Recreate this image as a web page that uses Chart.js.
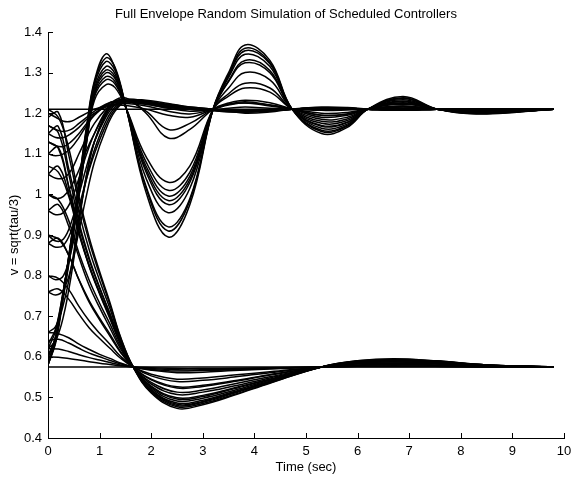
<!DOCTYPE html>
<html>
<head>
<meta charset="utf-8">
<script src="https://cdn.jsdelivr.net/npm/chart.js@4/dist/chart.umd.min.js"></script>
<style>
  html, body { margin: 0; padding: 0; background: #fff; }
  #wrap { width: 572px; height: 477px; }
</style>
</head>
<body>
<div id="wrap"><canvas id="chart" width="572" height="477"></canvas></div>
<script>
// time samples (sec)
const tLower = [0, 0.2, 0.4, 0.6, 0.8, 1.0, 1.2, 1.4, 1.65, 2.0, 2.5, 3.0, 3.6, 4.3, 5.3, 6.0, 6.7, 7.5, 8.5, 9.8];
const tUpper = [0, 0.15, 0.3, 0.45, 0.6, 0.75, 0.9, 1.12, 1.3, 1.52, 1.9, 2.33, 2.75, 3.2, 3.5, 3.82, 4.3, 4.73, 5.3, 5.8, 6.2, 6.88, 7.54, 8.3, 9.8];

// runs settling at v = 0.575
const lo1  = [1.21, 1.19, 1.115, 0.994, 0.893, 0.81, 0.734, 0.651, 0.575, 0.511, 0.473, 0.482, 0.505, 0.535, 0.575, 0.59, 0.595, 0.59, 0.58, 0.575];
const lo2  = [1.19, 1.202, 1.098, 0.981, 0.883, 0.803, 0.729, 0.649, 0.575, 0.513, 0.477, 0.485, 0.507, 0.536, 0.575, 0.59, 0.594, 0.59, 0.58, 0.575];
const lo3  = [1.17, 1.152, 1.051, 0.932, 0.843, 0.771, 0.706, 0.64, 0.575, 0.516, 0.48, 0.488, 0.51, 0.538, 0.575, 0.589, 0.593, 0.589, 0.58, 0.575];
const lo4  = [1.15, 1.167, 1.064, 0.955, 0.863, 0.788, 0.719, 0.644, 0.575, 0.518, 0.483, 0.49, 0.512, 0.539, 0.575, 0.589, 0.593, 0.589, 0.58, 0.575];
const lo5  = [1.13, 1.113, 1.019, 0.908, 0.825, 0.758, 0.697, 0.636, 0.575, 0.519, 0.486, 0.493, 0.514, 0.54, 0.575, 0.588, 0.592, 0.588, 0.579, 0.575];
const lo6  = [1.10, 1.116, 1.021, 0.922, 0.838, 0.769, 0.706, 0.638, 0.575, 0.523, 0.491, 0.498, 0.517, 0.542, 0.575, 0.588, 0.591, 0.588, 0.579, 0.575];
const lo7  = [1.07, 1.055, 0.996, 0.902, 0.823, 0.758, 0.699, 0.634, 0.575, 0.526, 0.496, 0.502, 0.521, 0.544, 0.575, 0.587, 0.59, 0.587, 0.579, 0.575];
const lo8  = [1.05, 1.069, 1.003, 0.908, 0.822, 0.755, 0.694, 0.632, 0.575, 0.528, 0.499, 0.505, 0.523, 0.545, 0.575, 0.586, 0.59, 0.586, 0.579, 0.575];
const lo9  = [1.00, 0.987, 0.936, 0.855, 0.788, 0.732, 0.681, 0.626, 0.575, 0.533, 0.507, 0.513, 0.528, 0.548, 0.575, 0.585, 0.588, 0.585, 0.578, 0.575];
const lo10 = [0.96, 0.975, 0.922, 0.845, 0.775, 0.721, 0.671, 0.621, 0.575, 0.537, 0.513, 0.518, 0.533, 0.551, 0.575, 0.584, 0.587, 0.584, 0.578, 0.575];
const lo11 = [0.90, 0.89, 0.851, 0.79, 0.738, 0.695, 0.656, 0.614, 0.575, 0.543, 0.523, 0.527, 0.539, 0.555, 0.575, 0.583, 0.585, 0.583, 0.578, 0.575];
const lo12 = [0.88, 0.892, 0.85, 0.789, 0.734, 0.691, 0.651, 0.612, 0.575, 0.545, 0.526, 0.53, 0.541, 0.556, 0.575, 0.582, 0.584, 0.582, 0.577, 0.575];
const lo13 = [0.80, 0.793, 0.766, 0.724, 0.688, 0.658, 0.631, 0.602, 0.575, 0.553, 0.539, 0.542, 0.55, 0.561, 0.575, 0.58, 0.582, 0.58, 0.577, 0.575];
const lo14 = [0.76, 0.767, 0.742, 0.705, 0.671, 0.645, 0.621, 0.597, 0.575, 0.557, 0.545, 0.548, 0.555, 0.563, 0.575, 0.579, 0.581, 0.579, 0.576, 0.575];
const lo15 = [0.66, 0.657, 0.647, 0.631, 0.618, 0.606, 0.596, 0.585, 0.575, 0.567, 0.561, 0.562, 0.566, 0.57, 0.575, 0.577, 0.578, 0.577, 0.576, 0.575];
const lo16 = [0.64, 0.643, 0.634, 0.621, 0.609, 0.60, 0.591, 0.583, 0.575, 0.569, 0.565, 0.566, 0.568, 0.571, 0.575, 0.577, 0.577, 0.577, 0.575, 0.575];
const lo17 = [0.62, 0.619, 0.613, 0.605, 0.598, 0.592, 0.586, 0.58, 0.575, 0.571, 0.568, 0.568, 0.57, 0.572, 0.575, 0.576, 0.576, 0.576, 0.575, 0.575];
const lo18 = [0.60, 0.599, 0.596, 0.592, 0.588, 0.584, 0.581, 0.578, 0.575, 0.573, 0.571, 0.571, 0.572, 0.573, 0.575, 0.576, 0.576, 0.576, 0.575, 0.575];
const lo19 = [0.575, 0.575, 0.575, 0.575, 0.575, 0.575, 0.575, 0.575, 0.575, 0.575, 0.575, 0.575, 0.575, 0.575, 0.575, 0.575, 0.575, 0.575, 0.575, 0.575];

// oscillating runs settling at v = 1.21
const os1 = [0.58, 0.64, 0.76, 0.89, 1.03, 1.17, 1.28, 1.346, 1.31, 1.21, 1.005, 0.895, 0.975, 1.21, 1.30, 1.368, 1.33, 1.21, 1.15, 1.165, 1.21, 1.241, 1.21, 1.198, 1.21];
const os2 = [0.58, 0.64, 0.76, 0.89, 1.03, 1.165, 1.275, 1.336, 1.313, 1.21, 1.015, 0.91, 0.985, 1.21, 1.295, 1.36, 1.325, 1.21, 1.155, 1.168, 1.21, 1.238, 1.21, 1.199, 1.21];
const os3 = [0.59, 0.645, 0.76, 0.885, 1.025, 1.16, 1.27, 1.327, 1.305, 1.21, 1.02, 0.92, 0.99, 1.21, 1.292, 1.354, 1.322, 1.21, 1.158, 1.17, 1.21, 1.236, 1.21, 1.199, 1.21];
const os4 = [0.60, 0.65, 0.76, 0.885, 1.02, 1.155, 1.262, 1.315, 1.297, 1.21, 1.04, 0.955, 1.015, 1.21, 1.288, 1.345, 1.315, 1.21, 1.163, 1.173, 1.21, 1.233, 1.21, 1.20, 1.21];
const os5 = [0.58, 0.635, 0.75, 0.875, 1.01, 1.145, 1.255, 1.306, 1.29, 1.21, 1.055, 0.975, 1.03, 1.21, 1.28, 1.33, 1.305, 1.21, 1.168, 1.177, 1.21, 1.23, 1.21, 1.20, 1.21];
const os6 = [0.60, 0.65, 0.755, 0.875, 1.005, 1.14, 1.25, 1.299, 1.285, 1.21, 1.062, 0.985, 1.037, 1.21, 1.278, 1.324, 1.30, 1.21, 1.17, 1.178, 1.21, 1.228, 1.21, 1.20, 1.21];
const os7 = [0.62, 0.665, 0.765, 0.88, 1.005, 1.135, 1.245, 1.29, 1.278, 1.21, 1.07, 0.996, 1.045, 1.21, 1.262, 1.30, 1.282, 1.21, 1.175, 1.182, 1.21, 1.226, 1.21, 1.201, 1.21];
const os8 = [0.60, 0.65, 0.75, 0.865, 0.995, 1.13, 1.24, 1.282, 1.272, 1.21, 1.08, 1.01, 1.055, 1.21, 1.248, 1.274, 1.262, 1.21, 1.18, 1.186, 1.21, 1.224, 1.21, 1.202, 1.21];
const os9 = [0.63, 0.67, 0.765, 0.875, 1.0, 1.13, 1.232, 1.27, 1.263, 1.21, 1.093, 1.03, 1.07, 1.21, 1.242, 1.262, 1.252, 1.21, 1.185, 1.19, 1.21, 1.222, 1.21, 1.203, 1.21];
const os10 = [0.62, 0.64, 0.70, 0.80, 0.93, 1.05, 1.13, 1.20, 1.232, 1.237, 1.20, 1.139, 1.16, 1.21, 1.225, 1.232, 1.226, 1.21, 1.19, 1.195, 1.21, 1.218, 1.21, 1.205, 1.21];
const os11 = [0.66, 0.675, 0.73, 0.82, 0.94, 1.05, 1.13, 1.195, 1.228, 1.232, 1.205, 1.16, 1.175, 1.21, 1.222, 1.225, 1.22, 1.21, 1.195, 1.198, 1.21, 1.215, 1.21, 1.206, 1.21];

// damped runs settling at v = 1.21
const up1  = [0.80, 0.79, 0.80, 0.86, 0.95, 1.04, 1.11, 1.18, 1.215, 1.23, 1.228, 1.22, 1.212, 1.21, 1.205, 1.20, 1.203, 1.21, 1.215, 1.214, 1.21, 1.207, 1.21, 1.211, 1.21];
const up2  = [0.90, 0.885, 0.89, 0.93, 1.0, 1.07, 1.13, 1.19, 1.22, 1.228, 1.225, 1.215, 1.21, 1.207, 1.205, 1.204, 1.206, 1.21, 1.213, 1.212, 1.21, 1.208, 1.21, 1.211, 1.21];
const up3  = [1.00, 0.99, 0.995, 1.02, 1.06, 1.11, 1.15, 1.20, 1.222, 1.23, 1.226, 1.218, 1.212, 1.208, 1.205, 1.205, 1.207, 1.21, 1.212, 1.211, 1.21, 1.209, 1.21, 1.21, 1.21];
const up4  = [1.05, 1.04, 1.04, 1.06, 1.10, 1.14, 1.175, 1.21, 1.228, 1.232, 1.228, 1.22, 1.213, 1.208, 1.204, 1.203, 1.206, 1.21, 1.213, 1.212, 1.21, 1.208, 1.21, 1.21, 1.21];
const up5  = [1.10, 1.095, 1.10, 1.115, 1.14, 1.17, 1.195, 1.218, 1.226, 1.228, 1.222, 1.214, 1.21, 1.207, 1.206, 1.206, 1.208, 1.21, 1.211, 1.211, 1.21, 1.209, 1.21, 1.21, 1.21];
const up6  = [1.15, 1.14, 1.14, 1.15, 1.165, 1.185, 1.20, 1.215, 1.222, 1.224, 1.218, 1.205, 1.198, 1.21, 1.22, 1.225, 1.218, 1.21, 1.20, 1.202, 1.21, 1.215, 1.21, 1.206, 1.21];
const up7  = [1.20, 1.19, 1.18, 1.18, 1.19, 1.20, 1.21, 1.218, 1.22, 1.219, 1.21, 1.195, 1.19, 1.21, 1.222, 1.228, 1.22, 1.21, 1.195, 1.198, 1.21, 1.218, 1.21, 1.205, 1.21];
const up8  = [1.21, 1.21, 1.21, 1.21, 1.21, 1.21, 1.21, 1.21, 1.21, 1.21, 1.21, 1.21, 1.21, 1.21, 1.21, 1.21, 1.21, 1.21, 1.21, 1.21, 1.21, 1.21, 1.21, 1.21, 1.21];
const up9  = [1.17, 1.16, 1.155, 1.16, 1.175, 1.19, 1.205, 1.222, 1.23, 1.228, 1.222, 1.212, 1.205, 1.208, 1.212, 1.215, 1.212, 1.21, 1.207, 1.208, 1.21, 1.212, 1.21, 1.209, 1.21];
const up10 = [0.96, 0.95, 0.955, 0.985, 1.04, 1.10, 1.15, 1.205, 1.228, 1.235, 1.23, 1.22, 1.213, 1.21, 1.206, 1.204, 1.206, 1.21, 1.213, 1.212, 1.21, 1.208, 1.21, 1.21, 1.21];
const up11 = [1.13, 1.12, 1.118, 1.13, 1.15, 1.175, 1.198, 1.22, 1.23, 1.232, 1.226, 1.216, 1.21, 1.206, 1.203, 1.203, 1.206, 1.21, 1.213, 1.212, 1.21, 1.208, 1.21, 1.21, 1.21];
const up12 = [0.88, 0.87, 0.875, 0.91, 0.97, 1.04, 1.10, 1.17, 1.21, 1.228, 1.228, 1.222, 1.215, 1.21, 1.206, 1.204, 1.206, 1.21, 1.213, 1.212, 1.21, 1.208, 1.21, 1.21, 1.21];
const up13 = [0.76, 0.752, 0.765, 0.82, 0.91, 1.0, 1.08, 1.16, 1.205, 1.23, 1.232, 1.224, 1.215, 1.21, 1.205, 1.203, 1.206, 1.21, 1.213, 1.212, 1.21, 1.208, 1.21, 1.21, 1.21];

const lowerRuns = [lo1, lo2, lo3, lo4, lo5, lo6, lo7, lo8, lo9, lo10, lo11, lo12, lo13, lo14, lo15, lo16, lo17, lo18, lo19];
const upperRuns = [os1, os2, os3, os4, os5, os6, os7, os8, os9, os10, os11,
                   up1, up2, up3, up4, up5, up6, up7, up8, up9, up10, up11, up12, up13];

const xTicks = [0, 1, 2, 3, 4, 5, 6, 7, 8, 9, 10];
const yTicks = [0.4, 0.5, 0.6, 0.7, 0.8, 0.9, 1, 1.1, 1.2, 1.3, 1.4];

function makeSet(times, vals) {
    return {
        data: times.map((t, i) => ({ x: t, y: vals[i] })),
        borderColor: '#000',
        borderWidth: 1.5,
        pointRadius: 0,
        tension: 0.4,
        fill: false
    };
}

const datasets = lowerRuns.map(v => makeSet(tLower, v))
    .concat(upperRuns.map(v => makeSet(tUpper, v)));

// short inward tick marks on both axes
const innerTicks = {
    id: 'innerTicks',
    afterDraw(chart) {
        const ctx = chart.ctx;
        const xs = chart.scales.x, ys = chart.scales.y;
        const a = chart.chartArea;
        ctx.save();
        ctx.strokeStyle = '#000';
        ctx.lineWidth = 1;
        ctx.beginPath();
        xTicks.forEach(v => {
            const px = Math.round(xs.getPixelForValue(v)) + 0.5;
            ctx.moveTo(px, a.bottom);
            ctx.lineTo(px, a.bottom - 5);
        });
        yTicks.forEach(v => {
            const py = Math.round(ys.getPixelForValue(v)) + 0.5;
            ctx.moveTo(a.left, py);
            ctx.lineTo(a.left + 5, py);
        });
        ctx.stroke();
        ctx.restore();
    }
};

Chart.defaults.font.family = '"Liberation Sans", Arial, sans-serif';
Chart.defaults.color = '#000';

new Chart(document.getElementById('chart'), {
    type: 'line',
    data: { datasets: datasets },
    options: {
        responsive: false,
        animation: false,
        layout: { padding: { left: 0, right: 0, top: 0, bottom: 0 } },
        plugins: {
            legend: { display: false },
            tooltip: { enabled: false },
            title: {
                display: true,
                text: 'Full Envelope Random Simulation of Scheduled Controllers',
                font: { size: 13, weight: 'normal' },
                color: '#000',
                padding: { top: 7, bottom: 9.4 }
            }
        },
        scales: {
            x: {
                type: 'linear',
                min: 0,
                max: 10,
                afterBuildTicks: s => { s.ticks = xTicks.map(v => ({ value: v })); },
                afterFit: s => { s.height = 39; s.paddingLeft = 0; s.paddingRight = 8; },
                grid: { display: false, drawTicks: false },
                border: { display: true, color: '#000', width: 1 },
                ticks: { font: { size: 13 }, color: '#000', padding: 6, maxRotation: 0 },
                title: { display: true, text: 'Time (sec)', font: { size: 13 }, color: '#000', padding: { top: 0, bottom: 2 } }
            },
            y: {
                type: 'linear',
                min: 0.4,
                max: 1.4,
                afterBuildTicks: s => { s.ticks = yTicks.map(v => ({ value: v })); },
                afterFit: s => { s.width = 48; },
                grid: { display: false, drawTicks: false },
                border: { display: true, color: '#000', width: 1 },
                ticks: { font: { size: 13 }, color: '#000', padding: 6, callback: v => String(+v.toFixed(1)) },
                title: { display: true, text: 'v = sqrt(tau/3)', font: { size: 13 }, color: '#000', padding: { top: 7, bottom: 0 } }
            }
        }
    },
    plugins: [innerTicks]
});
</script>
</body>
</html>
